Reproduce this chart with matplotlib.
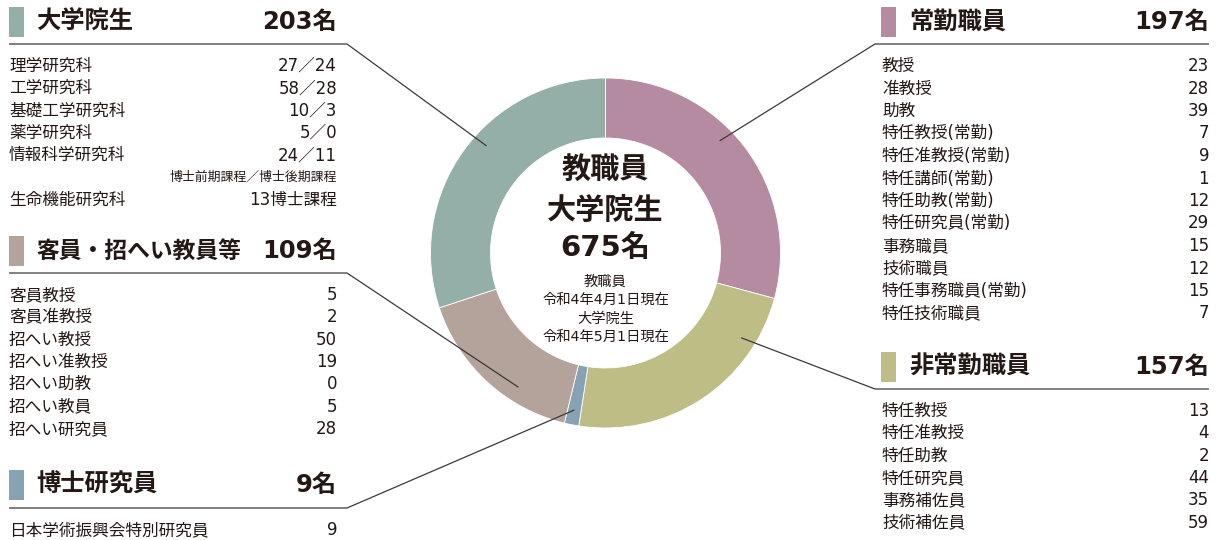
import numpy as np
import matplotlib
matplotlib.use("Agg")
import matplotlib.pyplot as plt

plt.rcParams['font.family'] = ['DejaVu Sans', 'Noto Sans CJK JP']

# ---------------- data ----------------
groups = ['常勤職員', '非常勤職員', '博士研究員', '客員・招へい教員等', '大学院生']
group_totals = [197, 157, 9, 109, 203]
group_colors = ['#b48ba0', '#bfbd86', '#87a3b3', '#b3a39b', '#94aea8']

total_label = '675名'

grad_labels = ['理学研究科', '工学研究科', '基礎工学研究科', '薬学研究科', '情報科学研究科']
grad_values = ['27／24', '58／28', '10／3', '5／0', '24／11']
grad_note = '博士前期課程／博士後期課程'
grad_extra_label = '生命機能研究科'
grad_extra_value = '13博士課程'

guest_labels = ['客員教授', '客員准教授', '招へい教授', '招へい准教授', '招へい助教', '招へい教員', '招へい研究員']
guest_values = [5, 2, 50, 19, 0, 5, 28]

postdoc_labels = ['日本学術振興会特別研究員']
postdoc_values = [9]

full_labels = ['教授', '准教授', '助教', '特任教授(常勤)', '特任准教授(常勤)', '特任講師(常勤)',
               '特任助教(常勤)', '特任研究員(常勤)', '事務職員', '技術職員',
               '特任事務職員(常勤)', '特任技術職員']
full_values = [23, 28, 39, 7, 9, 1, 12, 29, 15, 12, 15, 7]

part_labels = ['特任教授', '特任准教授', '特任助教', '特任研究員', '事務補佐員', '技術補佐員']
part_values = [13, 4, 2, 44, 35, 59]

# ---------------- figure ----------------
W, H = 1219, 540
fig = plt.figure(figsize=(W / 100, H / 100), dpi=100)
ax = fig.add_axes([0, 0, 1, 1])

TXT = '#231815'
LINE = '#3a3a3a'
CX, CY = 605.5, H - 253
R_OUT, RING = 175, 60
ROW = 12
HEAD = 17.5

wedges, _ = ax.pie(group_totals, colors=group_colors, radius=R_OUT, center=(CX, CY),
                   startangle=90, counterclock=False,
                   wedgeprops=dict(width=RING, edgecolor='white', linewidth=0.6))
ax.set_xlim(0, W)
ax.set_ylim(0, H)
ax.set_aspect('equal')
ax.axis('off')


def Y(y):
    return H - y


def txt(x, y, s, size=ROW, weight='normal', ha='left', color=TXT):
    ax.text(x, Y(y), s, fontsize=size, fontweight=weight, ha=ha, va='center', color=color)


def header(x_sq, x_txt, x_right, y, title, total, color, tsize=HEAD):
    ax.add_patch(plt.Rectangle((x_sq, Y(y + 15)), 15, 30, color=color, lw=0))
    txt(x_txt, y, title, size=tsize, weight='bold')
    txt(x_right, y, f'{total}名', size=HEAD, weight='bold', ha='right')


def leader(pts, wedge, ref_angle, r=160):
    lo, hi = wedge.theta1, wedge.theta2
    a = ref_angle
    while a < lo:
        a += 360
    while a > hi:
        a -= 360
    margin = min(8, (hi - lo) / 2)
    a = float(np.clip(a, lo + margin, hi - margin)) if (hi - lo) > 2 * margin else (lo + hi) / 2
    ex = CX + r * np.cos(np.radians(a))
    ey = CY + r * np.sin(np.radians(a))
    xs = [p[0] for p in pts] + [ex]
    ys = [Y(p[1]) for p in pts] + [ey]
    ax.plot(xs, ys, color=LINE, lw=0.9, solid_capstyle='butt')


# ---- left: 大学院生 ----
LX, LR = 9, 337
header(9, 36, LR, 22, groups[4], group_totals[4], group_colors[4])
leader([(9, 44), (347, 44)], wedges[4], 138)
row_y = 66
for lab, val in zip(grad_labels, grad_values):
    txt(LX, row_y, lab)
    txt(LR, row_y, val, ha='right')
    row_y += 22.3
txt(LR, 177, grad_note, size=9.3, ha='right')
txt(LX, 200, grad_extra_label)
txt(LR, 200, grad_extra_value, ha='right')

# ---- left: 客員・招へい教員等 ----
header(9, 36, LR, 251, groups[3], group_totals[3], group_colors[3], tsize=16.4)
leader([(9, 273), (347, 273)], wedges[3], -123)
for i, (lab, val) in enumerate(zip(guest_labels, guest_values)):
    y = 295 + i * 22.3
    txt(LX, y, lab)
    txt(LR, y, str(val), ha='right')

# ---- left: 博士研究員 ----
header(9, 36, LR, 485, groups[2], group_totals[2], group_colors[2])
leader([(9, 508), (347, 508)], wedges[2], -92)
for i, (lab, val) in enumerate(zip(postdoc_labels, postdoc_values)):
    y = 530 + i * 22.3
    txt(LX, y, lab)
    txt(LR, y, str(val), ha='right')

# ---- right: 常勤職員 ----
RX, RR = 882, 1209
header(881, 909, RR, 22, groups[0], group_totals[0], group_colors[0])
leader([(RR, 44), (875, 44)], wedges[0], 44.5)
for i, (lab, val) in enumerate(zip(full_labels, full_values)):
    y = 66 + i * 22.5
    txt(RX, y, lab)
    txt(RR, y, str(val), ha='right')

# ---- right: 非常勤職員 ----
header(881, 909, RR, 367, groups[1], group_totals[1], group_colors[1])
leader([(RR, 389), (875, 389)], wedges[1], -32)
for i, (lab, val) in enumerate(zip(part_labels, part_values)):
    y = 411 + i * 22.3
    txt(RX, y, lab)
    txt(RR, y, str(val), ha='right')

# ---- centre ----
txt(CX, 170, '教職員', size=21, weight='bold', ha='center')
txt(CX, 211, '大学院生', size=21, weight='bold', ha='center')
txt(CX, 248, total_label, size=21, weight='bold', ha='center')
for i, s in enumerate(['教職員', '令和4年4月1日現在', '大学院生', '令和4年5月1日現在']):
    txt(CX, 282 + i * 18.3, s, size=10.3, ha='center')

fig.savefig('out.png', dpi=100)
